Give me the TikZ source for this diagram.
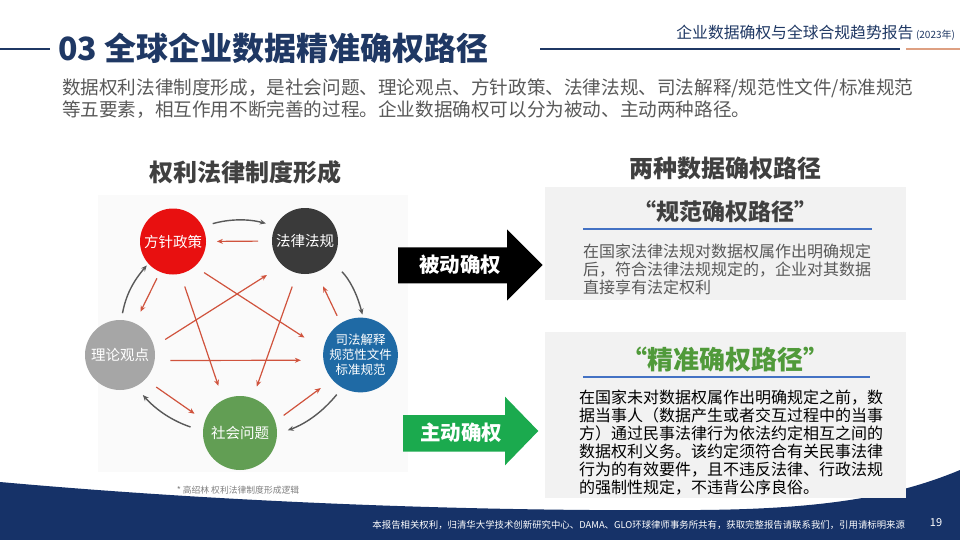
\documentclass[tikz,border=0pt]{standalone}
\usepackage{fontspec}
\setmainfont{Noto Sans CJK SC}
\usetikzlibrary{arrows.meta,calc}
\definecolor{navy}{RGB}{31,56,100}
\definecolor{bandnavy}{RGB}{22,50,104}
\definecolor{txtgray}{RGB}{89,89,89}
\definecolor{headgray}{RGB}{64,64,64}
\definecolor{cred}{RGB}{232,16,16}
\definecolor{cdark}{RGB}{58,58,58}
\definecolor{cblue}{RGB}{31,106,165}
\definecolor{cgreen}{RGB}{98,158,84}
\definecolor{cgray}{RGB}{166,166,166}
\definecolor{arrred}{RGB}{208,83,61}
\definecolor{arrgray}{RGB}{89,89,89}
\definecolor{boxgray}{RGB}{242,242,242}
\definecolor{bgreen}{RGB}{27,170,78}
\definecolor{tgreen}{RGB}{80,154,58}
\definecolor{lineblue}{RGB}{68,114,196}
\definecolor{accent}{RGB}{222,160,130}
\newcommand\fsz[1]{\fontsize{#1}{#1}\selectfont}
\tikzset{
  circ/.style={circle, inner sep=0pt, text=white, font=\fsz{14.5}, align=center},
  redarr/.style={draw=arrred, line width=1.2pt, -{Stealth[length=6pt,width=5pt]}},
  grayarr/.style={draw=arrgray, line width=1.4pt, -{Stealth[length=6pt,width=5pt]}, bend left=15},
  plain/.style={inner sep=0pt, outer sep=0pt},
}
\begin{document}
\begin{tikzpicture}[x=1pt,y=-1pt]
\useasboundingbox (0,0) rectangle (960,540);
\fill[white] (0,0) rectangle (960,540);

% header
\draw[navy, line width=1.3pt] (0,49) -- (50,49);
\node[plain, anchor=west, text=navy, font=\bfseries\fsz{32}] (title) at (58,48) {03 全球企业数据精准确权路径};
\draw[navy, line width=1.2pt] (540,49) -- (900,49);
\draw[accent, line width=1.2pt] (906,49) -- (960,49);
\node[plain, anchor=east, text=navy] (report) at (955,33) {\fsz{15.8}企业数据确权与全球合规趋势报告\,{\fsz{10}(2023年)}};

% subtitle
\node[plain, anchor=west, text=txtgray, font=\fsz{18.6}] (sub1) at (62,88) {数据权利法律制度形成，是社会问题、理论观点、方针政策、法律法规、司法解释/规范性文件/标准规范};
\node[plain, anchor=west, text=txtgray, font=\fsz{18.6}] (sub2) at (62,110) {等五要素，相互作用不断完善的过程。企业数据确权可以分为被动、主动两种路径。};

% section headings
\node[plain, text=headgray, font=\bfseries\fsz{24}] (h1) at (245,172) {权利法律制度形成};
\node[plain, text=headgray, font=\bfseries\fsz{24}] (h2) at (725,168) {两种数据确权路径};

% footer band
\fill[bandnavy] (0,482) .. controls (200,500) and (450,512) .. (700,510)
  .. controls (830,509) and (900,495) .. (960,470) -- (960,540) -- (0,540) -- cycle;
\node[plain, anchor=east, text=white, font=\fsz{9.4}] (foot) at (905,525) {本报告相关权利，归清华大学技术创新研究中心、DAMA、GLO环球律师事务所共有，获取完整报告请联系我们，引用请标明来源};
\node[plain, text=white, font=\fsz{11}] (pg) at (936,523) {19};

% left image background
\fill[black!2] (98,195) rectangle (408,472);
\node[plain, text=black!50, font=\fsz{8.8}] (cap) at (238,490) {* 高绍林 权利法律制度形成逻辑};

% circles
\node[circ, fill=cred, minimum size=66pt] (F) at (173,241.5) {方针政策};
\node[circ, fill=cdark, minimum size=66pt] (L) at (305,241) {法律法规};
\node[circ, fill=cblue, minimum size=74pt, font=\fontsize{12.5}{15}\selectfont] (S) at (360.5,355) {司法解释\\规范性文件\\标准规范};
\node[circ, fill=cgreen, minimum size=74pt] (H) at (240,433) {社会问题};
\node[circ, fill=cgray, minimum size=70pt] (T) at (120,355) {理论观点};

% red arrows
\draw[redarr, shorten <=13.7pt, shorten >=10.7pt] (L.180) -- (F.0);
\draw[redarr, shorten <=7pt, shorten >=12.7pt] (F.247) -- (T.65);
\draw[redarr, shorten <=13.4pt, shorten >=14.8pt] (F.283) -- (H.117);
\draw[redarr, shorten <=11.1pt, shorten >=22.4pt] (F.311) -- (S.172);
\draw[redarr, shorten <=13.1pt, shorten >=18.2pt] (T.14) -- (L.227);
\draw[redarr, shorten <=15.7pt, shorten >=22.4pt] (T.351) -- (S.188);
\draw[redarr, shorten <=13.3pt, shorten >=12.5pt] (T.316) -- (H.161);
\draw[redarr, shorten <=14.2pt, shorten >=12.2pt] (L.256) -- (H.70);
\draw[redarr, shorten <=10.3pt, shorten >=14.1pt] (H.18) -- (S.221);
\draw[redarr, shorten <=8.1pt, shorten >=15.7pt] (S.122) -- (L.290);

% gray arcs
\draw[grayarr, shorten <=10.5pt, shorten >=9.9pt] (F.27) to (L.153);
\draw[grayarr, shorten <=15pt, shorten >=3pt] (L.323) to (S.86);
\draw[grayarr, shorten <=8.7pt, shorten >=11.3pt] (S.241) to (H.358);
\draw[grayarr, shorten <=13pt, shorten >=11.2pt] (H.177) to (T.296);
\draw[grayarr, shorten <=6.7pt, shorten >=2.3pt] (T.88) to (F.222);

% block arrows
\fill[black] (398,247.3) -- (507,247.3) -- (507,229.3) -- (542.7,265) -- (507,300.7) -- (507,283.3) -- (398,283.3) -- cycle;
\node[plain, text=white, font=\bfseries\fsz{20.5}] (pa) at (460,265) {被动确权};
\fill[bgreen] (403,415) -- (505,415) -- (505,396.7) -- (538.3,431) -- (505,465.3) -- (505,451.7) -- (403,451.7) -- cycle;
\node[plain, text=white, font=\bfseries\fsz{20.5}] (aa) at (461,433) {主动确权};

% top box
\fill[boxgray] (545,187) rectangle (906,300);
\node[plain, text=headgray, font=\bfseries\fsz{23}] (t1) at (725,212) {“规范确权路径”};
\draw[lineblue, line width=2pt] (583,229) -- (872,229);
\foreach \ln [count=\i] in {在国家法律法规对数据权属作出明确规定,后，符合法律法规规定的，企业对其数据,直接享有法定权利}
  \node[plain, anchor=base west, text=txtgray, font=\fsz{16}] (ta\i) at (583,251+18*\i-18+6) {\ln};

% bottom box
\fill[boxgray] (545,332) rectangle (906,498);
\node[plain, text=tgreen, font=\bfseries\fsz{26}] (t2) at (725,360) {“精准确权路径”};
\draw[lineblue, line width=2pt] (583,377) -- (870,377);
\foreach \ln [count=\i] in {在国家未对数据权属作出明确规定之前，数,据当事人（数据产生或者交互过程中的当事,方）通过民事法律行为依法约定相互之间的,数据权利义务。该约定须符合有关民事法律,行为的有效要件，且不违反法律、行政法规,的强制性规定，不违背公序良俗。}
  \node[plain, anchor=base west, text=black, font=\fsz{16}] (tb\i) at (579,397+18*\i-18+6) {\ln};
\end{tikzpicture}
\end{document}
